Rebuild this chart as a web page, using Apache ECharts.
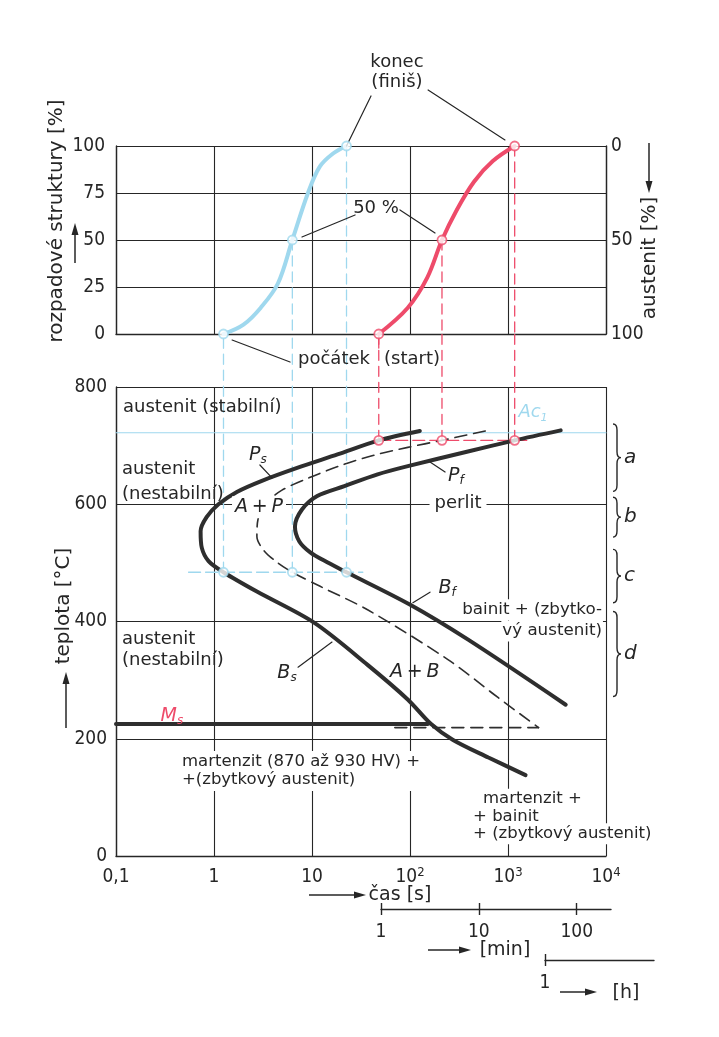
<!DOCTYPE html>
<html>
<head>
<meta charset="utf-8">
<title>IRA diagram</title>
<script src="https://cdn.jsdelivr.net/npm/echarts@6.0.0/dist/echarts.min.js"></script>
<style>
html, body { margin: 0; padding: 0; background: #fff; }
#chart { width: 719px; height: 1037px; }
</style>
</head>
<body>
<div id="chart"></div>
<script>
// ---------- values ----------
// time [s] on a log axis, rozpad / austenit [%], teplota [°C]
var xTickText = ['0,1', '1', '10', '10{sup|2}', '10{sup|3}', '10{sup|4}'];
var minTickVals = [1, 10, 100];
var hTickVals = [1];

// upper plot: decay of austenite at two temperatures
var blueDecay = [[1.25, 0], [2, 5], [3, 14], [4.5, 27], [6.3, 50], [9.1, 75], [12, 89], [16.4, 96], [22.5, 100]];
var redDecay = [[48, 0], [95, 14], [150, 30], [212, 50], [300, 66], [450, 81], [700, 92], [1170, 100]];

// start / 50 % / finish times and the temperatures they belong to
var blueTimes = [1.25, 6.3, 22.5];
var redTimes = [48, 212, 1170];
var markPct = [0, 50, 100];
var blueTemp = 484;
var redTemp = 709;

// lower plot: IRA curves
var psCurve = [[126, 725], [48, 709], [18.2, 685], [7.05, 662], [3.08, 640], [1.71, 621], [1.11, 600], [0.84, 578],
  [0.73, 554], [0.75, 526], [0.88, 503], [1.25, 484], [2.74, 451], [10.5, 398], [36.9, 326],
  [94.8, 267], [164, 225], [275, 198], [631, 168], [1510, 138]];
var halfCurve = [[586, 725], [212, 709], [95, 697], [43.6, 684], [20.4, 667], [9.6, 646], [4.94, 624], [3.31, 600],
  [2.81, 574], [2.74, 545], [3.23, 521], [4.4, 501], [6.3, 484], [12.1, 460], [36.9, 420], [244, 335],
  [796, 270], [2050, 219]];
var pfCurve = [[3450, 726], [1170, 709], [390, 690], [95, 665], [46.7, 651], [21.4, 631], [11.3, 614], [7.9, 591],
  [6.7, 562], [7.4, 537], [9.6, 518], [14.3, 501], [22.5, 484], [99.5, 429], [392, 369], [3880, 258]];
var msLine = [[0.1, 225], [152, 225]];
var msHalf = [[70, 219], [2050, 219]];
var ac1Line = [[0.1, 722], [10000, 722]];
var blueIso = [[0.55, 484], [33, 484]];
var redIso = [[48, 709], [1700, 709]];
var braceRanges = [[737, 622], [612, 544], [523, 432], [417, 272]];
var braceNames = ['a', 'b', 'c', 'd'];

// ---------- look ----------
var INK = '#262626', CURVE = '#2e2e2e', BLUE = '#9fd8ee', RED = '#ee4b6a';
var FONT = "'DejaVu Sans', sans-serif";
var NUM = "'Liberation Sans Narrow', 'DejaVu Sans Condensed', 'DejaVu Sans', sans-serif";

var PLOT = { left: 116, width: 490 };
var TOPG = { top: 146, height: 188 };
var BOTG = { top: 387, height: 469 };
// lower edge of the upper plot on the temperature scale, so the drop lines cross the gap
var gapTop = 800 + (BOTG.top - TOPG.top - TOPG.height) / BOTG.height * 800;

var chart = echarts.init(document.getElementById('chart'));

function line(g, data, color, width, dash, extra) {
  return Object.assign({
    type: 'line', xAxisIndex: g, yAxisIndex: g, data: data, symbol: 'none', silent: true, clip: false, z: 3,
    lineStyle: { color: color, width: width, type: dash || 'solid', cap: 'round' }
  }, extra || {});
}

function points(g, data, color) {
  return {
    type: 'scatter', xAxisIndex: g, yAxisIndex: g, data: data, symbol: 'circle', symbolSize: 9,
    silent: true, clip: false, z: 5,
    itemStyle: { color: '#fff', borderColor: color, borderWidth: 1.8 }
  };
}

var rich = {
  i: { fontStyle: 'italic', fontSize: 19, fontFamily: FONT, color: INK, lineHeight: 22 },
  sub: { fontStyle: 'italic', fontSize: 12, fontFamily: FONT, color: INK, lineHeight: 8, verticalAlign: 'bottom' },
  ri: { fontStyle: 'italic', fontSize: 19, fontFamily: FONT, color: RED, lineHeight: 22 },
  rsub: { fontStyle: 'italic', fontSize: 12, fontFamily: FONT, color: RED, lineHeight: 8, verticalAlign: 'bottom' },
  bi: { fontStyle: 'italic', fontSize: 18, fontFamily: FONT, color: BLUE, lineHeight: 22 },
  bsub: { fontStyle: 'italic', fontSize: 11, fontFamily: FONT, color: BLUE, lineHeight: 8, verticalAlign: 'bottom' }
};

function txt(t, v, text, opt) {
  return { value: [t, v], label: Object.assign({ formatter: text }, opt || {}) };
}

function labels(g, items) {
  return {
    type: 'scatter', xAxisIndex: g, yAxisIndex: g, data: items, symbolSize: 1, silent: true, clip: false, z: 6,
    itemStyle: { color: 'rgba(0,0,0,0)' },
    label: {
      show: true, position: 'inside', align: 'center', verticalAlign: 'middle', opacity: 1,
      color: INK, fontFamily: FONT, fontSize: 18, lineHeight: 21, rich: rich
    }
  };
}

var WHITE = { backgroundColor: '#fff', padding: [0, 3] };
var LEFT = { align: 'left' };

var series = [];

// ----- upper plot -----
series.push(line(0, blueDecay, BLUE, 4, 'solid', { smooth: 0.35 }));
series.push(line(0, redDecay, RED, 4, 'solid', { smooth: 0.35 }));
blueTimes.forEach(function (t, i) {
  if (markPct[i] > 0) series.push(line(0, [[t, markPct[i]], [t, 0]], BLUE, 1.3, [10, 6]));
});
redTimes.forEach(function (t, i) {
  if (markPct[i] > 0) series.push(line(0, [[t, markPct[i]], [t, 0]], RED, 1.3, [10, 6]));
});
// leader lines
series.push(line(0, [[40, 126.6], [22.5, 100]], INK, 1.2));
series.push(line(0, [[153, 129.8], [931, 103.2]], INK, 1.2));
series.push(line(0, [[27.5, 63.3], [7.9, 51.6]], INK, 1.2));
series.push(line(0, [[79, 66], [180, 53.7]], INK, 1.2));
series.push(line(0, [[1.53, -3.2], [5.97, -14.9]], INK, 1.2));
series.push(line(0, [[48, 0], [48, -7.5]], RED, 1.3));
series.push(points(0, blueTimes.map(function (t, i) { return [t, markPct[i]]; }), BLUE));
series.push(points(0, redTimes.map(function (t, i) { return [t, markPct[i]]; }), RED));
series.push(labels(0, [
  txt(73.6, 139.4, 'konec\n(finiš)', { lineHeight: 20 }),
  txt(45, 67, '50 %'),
  txt(7.2, -13.3, 'počátek', LEFT),
  txt(54.3, -13.3, '(start)', LEFT)
]));

// ----- lower plot -----
series.push(line(1, ac1Line, BLUE, 1.2));
series.push(line(1, blueIso, BLUE, 1.3, [12, 5]));
series.push(line(1, redIso, RED, 1.3, [12, 5]));
blueTimes.forEach(function (t) { series.push(line(1, [[t, blueTemp], [t, gapTop]], BLUE, 1.3, [10, 6])); });
redTimes.forEach(function (t) { series.push(line(1, [[t, redTemp], [t, gapTop]], RED, 1.3, [10, 6])); });
series.push(line(1, psCurve, CURVE, 4, 'solid', { smooth: 0.3 }));
series.push(line(1, pfCurve, CURVE, 4, 'solid', { smooth: 0.3 }));
series.push(line(1, halfCurve, CURVE, 1.6, [12, 7], { smooth: 0.3 }));
series.push(line(1, msHalf, CURVE, 1.6, [12, 7]));
series.push(line(1, msLine, CURVE, 4));
// leader lines
series.push(line(1, [[2.94, 667], [3.91, 645]], INK, 1.2));
series.push(line(1, [[160, 672], [228, 655]], INK, 1.2));
series.push(line(1, [[107, 432], [160, 450]], INK, 1.2));
series.push(line(1, [[7.2, 322], [16, 365]], INK, 1.2));
series.push(points(1, blueTimes.map(function (t) { return [t, blueTemp]; }), BLUE));
series.push(points(1, redTimes.map(function (t) { return [t, redTemp]; }), RED));
series.push(labels(1, [
  txt(0.118, 766, 'austenit (stabilní)', LEFT),
  txt(0.115, 638, 'austenit\n(nestabilní)', { align: 'left', lineHeight: 25 }),
  txt(2.88, 595, '{i|A\u2009+\u2009P}', WHITE),
  txt(2.81, 684, '{i|P}{sub|s}'),
  txt(294, 648, '{i|P}{sub|f}'),
  txt(309, 602, 'perlit', { backgroundColor: '#fff', padding: [0, 5] }),
  txt(1800, 757, '{bi|Ac}{bsub|1}'),
  txt(239, 457, '{i|B}{sub|f}'),
  txt(9310, 420, 'bainit + (zbytko-', { align: 'right', fontSize: 16.7, backgroundColor: '#fff', padding: [0, 1] }),
  txt(9310, 384, 'vý austenit)', { align: 'right', fontSize: 16.7, backgroundColor: '#fff', padding: [0, 1] }),
  txt(112, 314, '{i|A\u2009+\u2009B}'),
  txt(0.115, 351, 'austenit\n(nestabilní)', { align: 'left', lineHeight: 21 }),
  txt(5.56, 312, '{i|B}{sub|s}'),
  txt(0.372, 239, '{ri|M}{rsub|s}'),
  txt(0.471, 145, 'martenzit (870 až 930 HV) +\n+(zbytkový austenit)', { align: 'left', fontSize: 16.5, lineHeight: 18, backgroundColor: '#fff', padding: [2, 0] }),
  txt(556, 97, 'martenzit +', { align: 'left', fontSize: 16.5, backgroundColor: '#fff' }),
  txt(440, 67, '+ bainit', { align: 'left', fontSize: 16.5, backgroundColor: '#fff' }),
  txt(440, 38, '+ (zbytkový austenit)', { align: 'left', fontSize: 16.5, backgroundColor: '#fff' })
]));
// braces a-d on the right of the lower plot
series.push({
  type: 'custom', xAxisIndex: 1, yAxisIndex: 1, silent: true, clip: false, z: 4,
  data: braceRanges.map(function (r) { return [10000, r[0], r[1]]; }),
  renderItem: function (params, api) {
    var p1 = api.coord([api.value(0), api.value(1)]);
    var p2 = api.coord([api.value(0), api.value(2)]);
    var x0 = p1[0] + 7, y1 = p1[1], y2 = p2[1], ym = (y1 + y2) / 2, w = 4, r = 6;
    var d = 'M' + x0 + ',' + y1 + ' Q' + (x0 + w) + ',' + y1 + ' ' + (x0 + w) + ',' + (y1 + r) +
      ' L' + (x0 + w) + ',' + (ym - r) + ' Q' + (x0 + w) + ',' + ym + ' ' + (x0 + 2 * w) + ',' + ym +
      ' Q' + (x0 + w) + ',' + ym + ' ' + (x0 + w) + ',' + (ym + r) +
      ' L' + (x0 + w) + ',' + (y2 - r) + ' Q' + (x0 + w) + ',' + y2 + ' ' + x0 + ',' + y2;
    return {
      type: 'group', children: [
        { type: 'path', shape: { pathData: d }, style: { stroke: INK, fill: null, lineWidth: 1.4 } },
        { type: 'text', x: x0 + 2 * w + 3, y: ym, style: { text: braceNames[params.dataIndex], fontSize: 20, fontStyle: 'italic', fontFamily: 'DejaVu Sans', fill: INK, align: 'left', verticalAlign: 'middle' } }
      ]
    };
  }
});

// ---------- axes ----------
var gridLine = { show: true, lineStyle: { color: INK, width: 1.1 } };
var frameLine = { show: true, lineStyle: { color: INK, width: 1.4 } };
var numLabel = { color: INK, fontFamily: NUM, fontSize: 19 };

function timeAxis(g, withLabels) {
  return {
    type: 'log', logBase: 10, min: 0.1, max: 10000, gridIndex: g,
    axisLine: frameLine, axisTick: { show: false }, splitLine: gridLine,
    axisLabel: withLabels ? Object.assign({
      margin: 10, lineHeight: 22,
      formatter: function (v) { return xTickText[Math.round(Math.log10(v)) + 1]; },
      rich: { sup: { fontFamily: NUM, fontSize: 13, color: INK, lineHeight: 14, verticalAlign: 'top' } }
    }, numLabel) : { show: false }
  };
}

function unitAxis(g, max, ticks, pos, withLabels) {
  return {
    type: 'log', logBase: 10, min: 1, max: max, gridIndex: g, position: pos,
    axisLine: { show: pos === 'bottom', lineStyle: { color: INK, width: 1.4 } },
    axisTick: { show: true, customValues: ticks, length: 6, lineStyle: { color: INK, width: 1.4 } },
    splitLine: { show: false },
    axisLabel: withLabels ? Object.assign({ customValues: ticks, margin: 14 }, numLabel) : { show: false }
  };
}

var arrowEls = [];
function arrow(x1, y1, x2, y2) {
  var a = Math.atan2(y2 - y1, x2 - x1), len = 12, hw = 3.5;
  var bx = x2 - len * Math.cos(a), by = y2 - len * Math.sin(a);
  var px = -Math.sin(a) * hw, py = Math.cos(a) * hw;
  arrowEls.push({ type: 'line', silent: true, shape: { x1: x1, y1: y1, x2: bx, y2: by }, style: { stroke: INK, lineWidth: 1.5 } });
  arrowEls.push({ type: 'polygon', silent: true, shape: { points: [[x2, y2], [bx + px, by + py], [bx - px, by - py]] }, style: { fill: INK } });
}
function name(x, y, text, rot, size) {
  arrowEls.push({ type: 'text', silent: true, x: x, y: y, rotation: rot || 0,
    style: { text: text, fontSize: size || 19, fontFamily: FONT, fill: INK, align: 'center', verticalAlign: 'middle' } });
}
name(57, 221, 'rozpadové struktury [%]', Math.PI / 2, 20);
arrow(75, 263, 75, 223);
name(650, 258, 'austenit [%]', Math.PI / 2, 20);
arrow(649, 143, 649, 193);
name(64, 606, 'teplota [°C]', Math.PI / 2, 20);
arrow(66, 728, 66, 672);
name(400, 895, 'čas [s]');
arrow(309, 895, 366, 895);
name(505, 950, '[min]');
arrow(428, 950, 471, 950);
name(626, 993, '[h]');
arrow(560, 992, 597, 992);

chart.setOption({
  animation: false,
  backgroundColor: '#fff',
  grid: [
    { left: PLOT.left, width: PLOT.width, top: TOPG.top, height: TOPG.height },
    { left: PLOT.left, width: PLOT.width, top: BOTG.top, height: BOTG.height },
    { left: 381, width: 230, top: 909, height: 0 },
    { left: 545, width: 109, top: 960, height: 0 }
  ],
  xAxis: [
    timeAxis(0, false),
    timeAxis(1, true),
    unitAxis(2, 224, minTickVals, 'bottom', true),
    unitAxis(3, 13, hTickVals, 'bottom', true),
    unitAxis(2, 224, minTickVals, 'top', false),
    unitAxis(3, 13, hTickVals, 'top', false)
  ],
  yAxis: [
    { type: 'value', gridIndex: 0, min: 0, max: 100, interval: 25, axisLine: frameLine, axisTick: { show: false },
      splitLine: gridLine, axisLabel: Object.assign({ margin: 11 }, numLabel) },
    { type: 'value', gridIndex: 1, min: 0, max: 800, interval: 200, axisLine: frameLine, axisTick: { show: false },
      splitLine: gridLine, axisLabel: Object.assign({ margin: 9 }, numLabel) },
    { type: 'value', gridIndex: 2, show: false, min: 0, max: 1 },
    { type: 'value', gridIndex: 3, show: false, min: 0, max: 1 },
    { type: 'value', gridIndex: 0, position: 'right', inverse: true, min: 0, max: 100, interval: 50,
      axisLine: frameLine, axisTick: { show: false }, splitLine: { show: false },
      axisLabel: Object.assign({ margin: 5 }, numLabel) }
  ],
  graphic: { elements: arrowEls },
  series: series
});
</script>
</body>
</html>
